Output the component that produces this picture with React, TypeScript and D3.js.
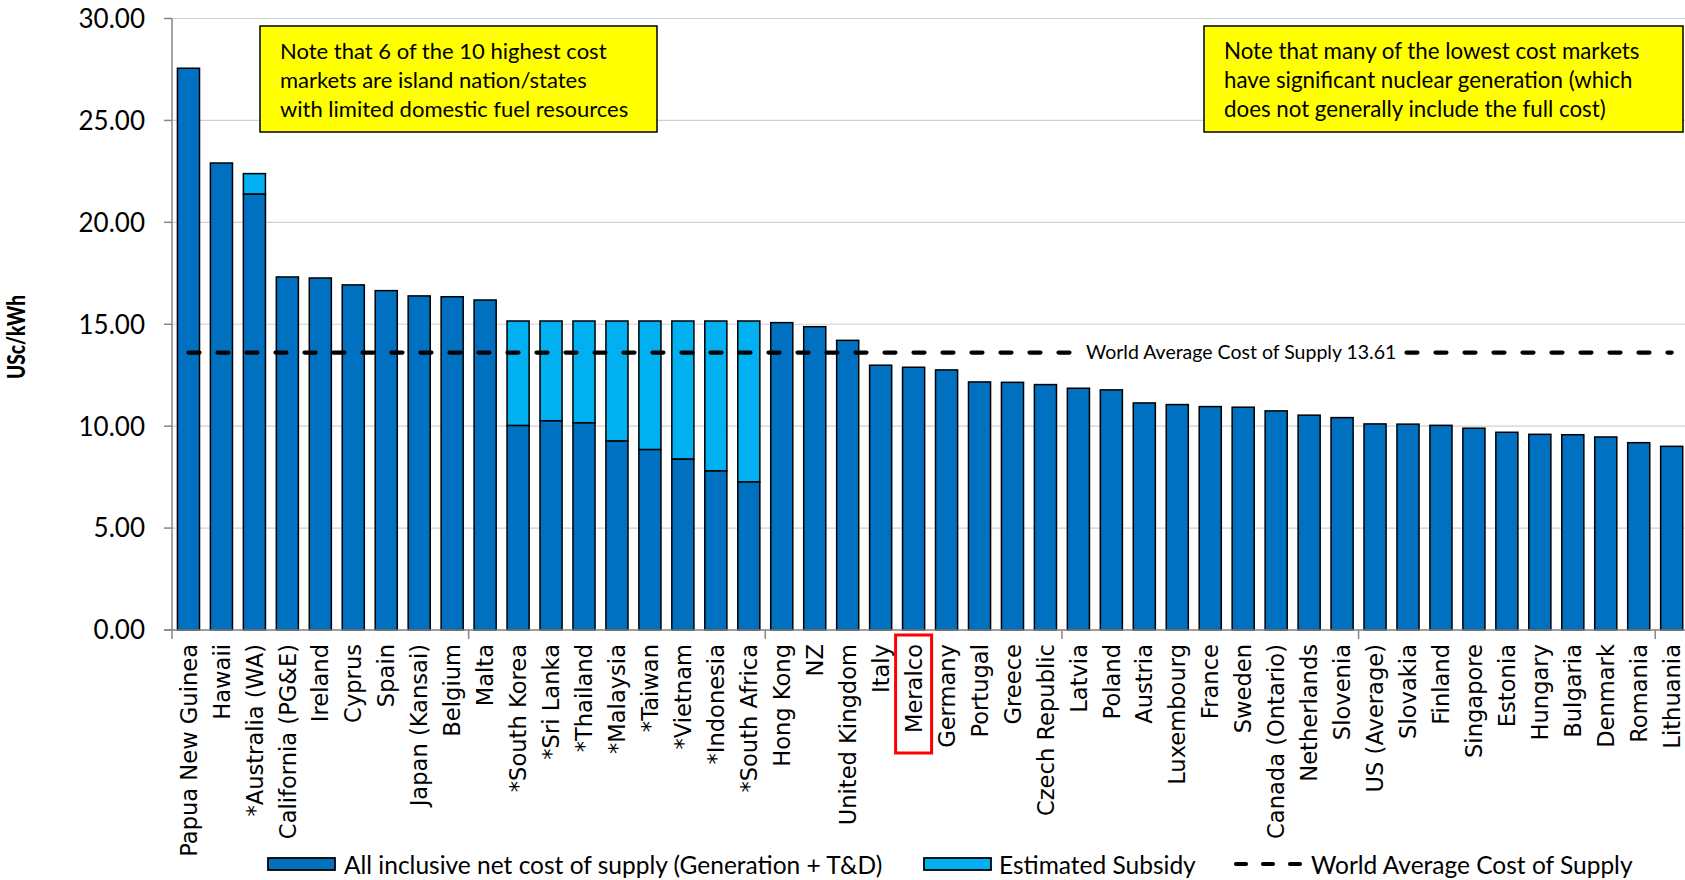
import React from 'react';
import * as d3 from 'd3';

const categories = [
  'Papua New Guinea', 'Hawaii', '*Australia (WA)', 'California (PG&E)', 'Ireland', 'Cyprus', 'Spain',
  'Japan (Kansai)', 'Belgium', 'Malta', '*South Korea', '*Sri Lanka', '*Thailand', '*Malaysia', '*Taiwan',
  '*Vietnam', '*Indonesia', '*South Africa', 'Hong Kong', 'NZ', 'United Kingdom', 'Italy', 'Meralco',
  'Germany', 'Portugal', 'Greece', 'Czech Republic', 'Latvia', 'Poland', 'Austria', 'Luxembourg', 'France',
  'Sweden', 'Canada (Ontario)', 'Netherlands', 'Slovenia', 'US (Average)', 'Slovakia', 'Finland',
  'Singapore', 'Estonia', 'Hungary', 'Bulgaria', 'Denmark', 'Romania', 'Lithuania',
];

const netCost = [
  27.56, 22.91, 21.38, 17.32, 17.27, 16.93, 16.65, 16.39, 16.35, 16.19, 10.03, 10.26, 10.16, 9.27, 8.85,
  8.38, 7.8, 7.26, 15.08, 14.88, 14.21, 12.99, 12.89, 12.76, 12.17, 12.15, 12.04, 11.86, 11.78, 11.14, 11.06,
  10.96, 10.93, 10.75, 10.54, 10.42, 10.11, 10.1, 10.04, 9.9, 9.7, 9.6, 9.58, 9.47, 9.19, 9.01,
];

const subsidy = [
  0, 0, 1.01, 0, 0, 0, 0, 0, 0, 0, 5.13, 4.9, 5.0, 5.89, 6.31, 6.78, 7.36, 7.9, 0, 0, 0, 0, 0, 0, 0, 0, 0, 0,
  0, 0, 0, 0, 0, 0, 0, 0, 0, 0, 0, 0, 0, 0, 0, 0, 0, 0,
];

const worldAverage = 13.61;
const worldAverageLabel = 'World Average Cost of Supply 13.61';
const labelCategory = 'Sweden';
const highlightCategory = 'Meralco';
const yTicks = [0, 5, 10, 15, 20, 25, 30];
const tickEvery = 9;

const noteLeft = [
  'Note that 6 of the 10 highest cost',
  'markets are island nation/states',
  'with limited domestic fuel resources',
];
const noteRight = [
  'Note that many of the lowest cost markets',
  'have significant nuclear generation (which',
  'does not generally include the full cost)',
];
const legendLabels = [
  'All inclusive net cost of supply (Generation + T&D)',
  'Estimated Subsidy',
  'World Average Cost of Supply',
];
const yTitle = 'USc/kWh';

const DARK = '#0070C0';
const LIGHT = '#00B0F0';
const CAL = 'Lato, "Open Sans", sans-serif';
const VER = '"DejaVu Sans", Verdana, sans-serif';

export default function App() {
  const W = 1685;
  const H = 880;
  const left = 172;
  const step = 32.96;
  const bottom = 630;
  const x = d3
    .scaleBand<string>()
    .domain(categories)
    .range([left, left + step * categories.length])
    .paddingInner(0.33)
    .paddingOuter(0.165);
  const y = d3.scaleLinear().domain([0, 30]).range([bottom, 18.5]);
  const bw = x.bandwidth();
  const cx = (c: string) => (x(c) as number) + bw / 2;

  const dash = { stroke: '#000', strokeWidth: 4.2, strokeDasharray: '11 18', strokeLinecap: 'round' as const };

  const avgLine = d3.line<string>()
    .x((c) => cx(c))
    .y(() => y(worldAverage))(categories) as string;

  const xTickIdx = d3.range(0, categories.length, tickEvery);
  const labelX = cx(labelCategory);
  const hcx = cx(highlightCategory);

  return (
    <svg width={W} height={H} style={{ position: 'absolute', left: 0, top: 0, display: 'block', background: '#fff' }}>
      {/* gridlines */}
      {yTicks.map((t) => (
        <line key={'g' + t} x1={left} x2={W} y1={y(t)} y2={y(t)} stroke="#D0D0D0" strokeWidth={1.2} />
      ))}
      {/* y axis */}
      <line x1={left} x2={left} y1={y(30)} y2={bottom} stroke="#868686" strokeWidth={1.5} />
      {yTicks.map((t) => (
        <g key={'yt' + t}>
          <line x1={left - 8} x2={left} y1={y(t)} y2={y(t)} stroke="#868686" strokeWidth={1.5} />
          <text x={145} y={y(t)} dy="0.36em" textAnchor="end" fontFamily={CAL} fontSize={26} fill="#000">
            {t.toFixed(2)}
          </text>
        </g>
      ))}
      {/* bars */}
      {categories.map((c, i) => (
        <g key={'b' + c}>
          {subsidy[i] > 0 && (
            <rect
              x={x(c)}
              width={bw}
              y={y(netCost[i] + subsidy[i])}
              height={y(netCost[i]) - y(netCost[i] + subsidy[i])}
              fill={LIGHT}
              stroke="#000"
              strokeWidth={1.5}
            />
          )}
          <rect x={x(c)} width={bw} y={y(netCost[i])} height={bottom - y(netCost[i])} fill={DARK} stroke="#000" strokeWidth={1.5} />
        </g>
      ))}
      {/* x axis */}
      <line x1={left - 8} x2={W} y1={bottom} y2={bottom} stroke="#868686" strokeWidth={1.5} />
      {xTickIdx.map((i) => (
        <line key={'xt' + i} x1={left + i * x.step()} x2={left + i * x.step()} y1={bottom} y2={bottom + 9} stroke="#868686" strokeWidth={1.5} />
      ))}
      {/* category labels */}
      {categories.map((c) => (
        <text
          key={'l' + c}
          transform={`translate(${cx(c)},${bottom + 14}) rotate(-90)`}
          dy="0.36em"
          textAnchor="end"
          fontFamily={VER}
          fontSize={22.6}
          fill="#000"
        >
          {c}
        </text>
      ))}
      {/* highlight box */}
      <rect x={hcx - 18} y={bottom + 5} width={36} height={118} fill="none" stroke="#FF0000" strokeWidth={3} />
      {/* world average line */}
      <path d={avgLine} fill="none" {...dash} />
      <rect x={labelX - 160} y={y(worldAverage) - 12} width={320} height={24} fill="#fff" />
      <text x={labelX - 2} y={y(worldAverage)} dy="0.35em" textAnchor="middle" fontFamily={CAL} fontSize={19.5} fill="#000">
        {worldAverageLabel}
      </text>
      {/* notes */}
      <g>
        <rect x={260} y={26} width={397} height={106} fill="#FFFF00" stroke="#000" strokeWidth={1.5} />
        {noteLeft.map((t, i) => (
          <text key={'nl' + i} x={280} y={51 + i * 29} dy="0.35em" fontFamily={CAL} fontSize={22} fill="#000">
            {t}
          </text>
        ))}
        <rect x={1204} y={26} width={479} height={106} fill="#FFFF00" stroke="#000" strokeWidth={1.5} />
        {noteRight.map((t, i) => (
          <text key={'nr' + i} x={1224} y={51 + i * 29} dy="0.35em" fontFamily={CAL} fontSize={22.3} fill="#000">
            {t}
          </text>
        ))}
      </g>
      {/* y axis title */}
      <text
        transform={`translate(17,${337}) rotate(-90)`}
        dy="0.35em"
        textAnchor="middle"
        fontFamily={CAL}
        fontWeight={900}
        fontSize={24}
        textLength={84}
        lengthAdjust="spacingAndGlyphs"
        fill="#000"
      >
        {yTitle}
      </text>
      {/* legend */}
      <g>
        <rect x={268} y={858} width={67} height={12} fill={DARK} stroke="#000" strokeWidth={1.8} />
        <text x={344} y={865} dy="0.35em" fontFamily={CAL} fontSize={24.5} fill="#000">{legendLabels[0]}</text>
        <rect x={924} y={858} width={67} height={12} fill={LIGHT} stroke="#000" strokeWidth={1.8} />
        <text x={999} y={865} dy="0.35em" fontFamily={CAL} fontSize={24.5} fill="#000">{legendLabels[1]}</text>
        <line x1={1236} x2={1304} y1={864} y2={864} {...dash} strokeDasharray="10 17" />
        <text x={1311} y={865} dy="0.35em" fontFamily={CAL} fontSize={24.5} fill="#000">{legendLabels[2]}</text>
      </g>
    </svg>
  );
}
